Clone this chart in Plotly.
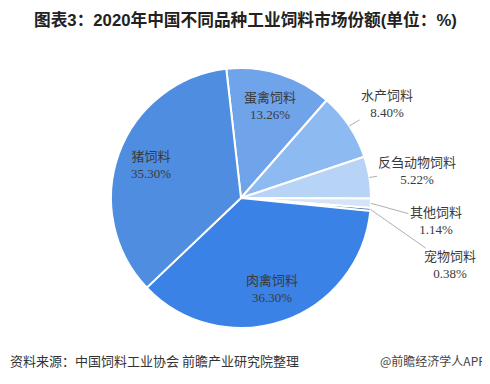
import math
import plotly.graph_objects as go

labels = ["蛋禽饲料", "水产饲料", "反刍动物饲料", "其他饲料", "宠物饲料", "肉禽饲料", "猪饲料"]
values = [13.26, 8.40, 5.22, 1.14, 0.38, 36.30, 35.30]
colors = ["#6fa3ea", "#8dbaf0", "#b7d3f6", "#d5e5f7", "#2e5f9e", "#3b82e6", "#4f8de0"]
inside = [True, False, False, False, False, True, True]
# pixel offsets of outside labels from slice rim (layout only)
label_offsets = {1: (38, -22), 2: (48, -6), 3: (65, 18), 4: (80, 56)}

title = "图表3：2020年中国不同品种工业饲料市场份额(单位：%)"
source = "资料来源：中国饲料工业协会 前瞻产业研究院整理"
brand = "@前瞻经济学人APP"

W, H = 490, 384
OFF = 8  # page body margin in the browser
FW, FH = W - OFF, H - OFF
cx, cy, r = 241, 198, 130
rotation = -6.5
lab_font = dict(family="Liberation Serif, Noto Sans CJK SC", size=13, color="#3a3a3a")


def px2paper(X, Y):
    return (X - OFF) / FW, 1 - (Y - OFF) / FH


x0, y1 = px2paper(cx - r, cy - r)
x1, y0 = px2paper(cx + r, cy + r)

fig = go.Figure(go.Pie(
    labels=labels,
    values=values,
    sort=False,
    direction="clockwise",
    rotation=rotation,
    marker=dict(colors=colors, line=dict(color="white", width=2)),
    textinfo="none",
    hoverinfo="label+percent",
    showlegend=False,
    domain=dict(x=[x0, x1], y=[y0, y1]),
))

tx, ty = px2paper(245, 20)
sx, sy = px2paper(8, 360)
bx, by = px2paper(488, 360)
annotations = [
    dict(text="<b>" + title + "</b>", x=tx, y=ty, xref="paper", yref="paper",
         showarrow=False, font=dict(family="Liberation Sans, Noto Sans CJK SC", size=16.7, color="#222222"),
         xanchor="center", yanchor="middle"),
    dict(text=source, x=sx, y=sy, xref="paper", yref="paper", showarrow=False,
         font=dict(family="Noto Sans CJK SC", size=13, color="#333333"), xanchor="left", yanchor="middle"),
    dict(text=brand, x=bx, y=by, xref="paper", yref="paper", showarrow=False,
         font=dict(family="Noto Sans CJK SC", size=12, color="#444444"), xanchor="right", yanchor="middle"),
]

total = sum(values)
cum = 0.0
for i, v in enumerate(values):
    mid = rotation + (cum + v / 2) / total * 360
    cum += v
    a = math.radians(mid)
    text = f"{labels[i]}<br>{values[i]:.2f}%"
    if inside[i]:
        lx, ly = px2paper(cx + 0.74 * r * math.sin(a), cy - 0.74 * r * math.cos(a))
        annotations.append(dict(text=text, x=lx, y=ly, xref="paper", yref="paper", showarrow=False,
                                font=lab_font, align="center", xanchor="center", yanchor="middle"))
    else:
        ex, ey = px2paper(cx + r * math.sin(a), cy - r * math.cos(a))
        dx, dy = label_offsets[i]
        annotations.append(dict(
            text=text, x=ex, y=ey, xref="paper", yref="paper",
            ax=dx, ay=dy, showarrow=True, arrowhead=0, arrowwidth=0.8, arrowcolor="#999999",
            standoff=0, startstandoff=0, font=lab_font, align="center",
        ))

fig.update_layout(
    width=FW, height=FH,
    margin=dict(l=0, r=0, t=0, b=0),
    paper_bgcolor="white",
    plot_bgcolor="white",
    annotations=annotations,
)

fig.write_html("out.html")
